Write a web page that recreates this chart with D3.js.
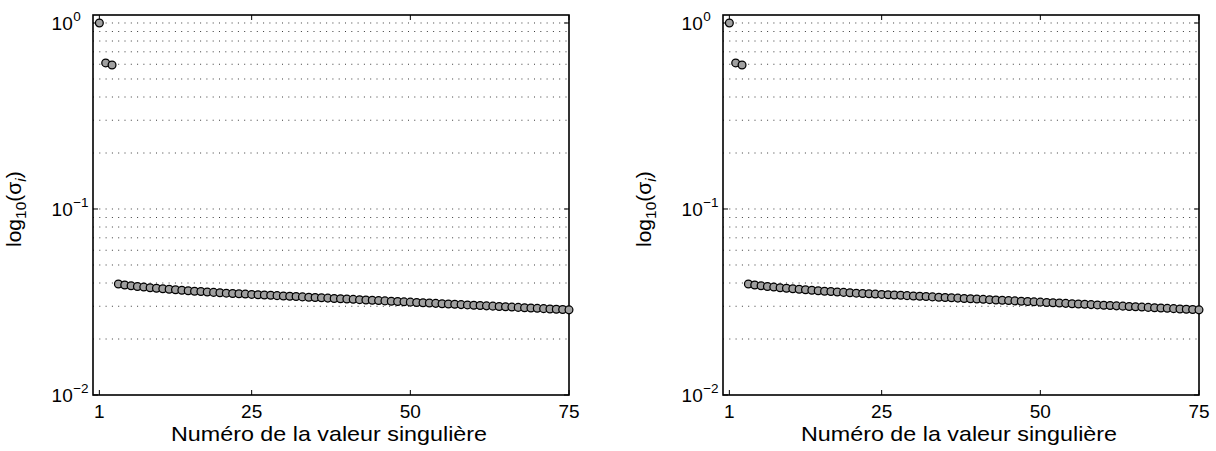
<!DOCTYPE html>
<html>
<head>
<meta charset="utf-8">
<script src="https://cdn.jsdelivr.net/npm/d3@7"></script>
<style>
  html, body { margin: 0; padding: 0; background: #fff; }
  svg text { font-family: "Liberation Sans", Arial, Helvetica, sans-serif; fill: #000; }
</style>
</head>
<body>
<svg id="chart" width="1216" height="451"></svg>
<script>
// ---- data ----
const indices = d3.range(1, 76); // singular value number 1..75
const sigma = [
  1.000, 0.610, 0.594,
  0.03952, 0.03903, 0.03865, 0.03832, 0.03803, 0.03775, 0.03747, 0.03724, 0.03701,
  0.03678, 0.03656, 0.03633, 0.03615, 0.03598, 0.03580, 0.03562, 0.03545, 0.03528,
  0.03514, 0.03501, 0.03488, 0.03474, 0.03461, 0.03448, 0.03435, 0.03421, 0.03408,
  0.03395, 0.03382, 0.03369, 0.03356, 0.03344, 0.03331, 0.03318, 0.03305, 0.03293,
  0.03280, 0.03268, 0.03255, 0.03243, 0.03230, 0.03218, 0.03206, 0.03193, 0.03181,
  0.03169, 0.03157, 0.03145, 0.03133, 0.03121, 0.03109, 0.03097, 0.03085, 0.03073,
  0.03062, 0.03050, 0.03038, 0.03027, 0.03015, 0.03004, 0.02992, 0.02981, 0.02969,
  0.02958, 0.02947, 0.02935, 0.02924, 0.02913, 0.02902, 0.02891, 0.02880, 0.02869
];
const xTicks = [1, 25, 50, 75];
const yTicks = [0.01, 0.1, 1];
const yTickExponents = ["\u22122", "\u22121", "0"];
const yGridValues = [0.02, 0.03, 0.04, 0.05, 0.06, 0.07, 0.08, 0.09, 0.1,
                     0.2, 0.3, 0.4, 0.5, 0.6, 0.7, 0.8, 0.9, 1];
const xDomain = [0, 75];
const yDomain = [0.01, 1.104];
const xLabelText = "Numéro de la valeur singulière";

// ---- layout ----
const panelLefts = [93, 723];
const plotTop = 15, plotW = 476, plotH = 380;

const svg = d3.select("#chart");

function drawPanel(left) {
  const g = svg.append("g").attr("transform", `translate(${left},${plotTop})`);
  const x = d3.scaleLinear().domain(xDomain).range([0, plotW]);
  const y = d3.scaleLog().domain(yDomain).range([plotH, 0]);

  // grid
  g.append("g").selectAll("line").data(yGridValues).join("line")
    .attr("x1", 0).attr("x2", plotW)
    .attr("y1", d => y(d)).attr("y2", d => y(d))
    .attr("stroke", "#3a3a3a").attr("stroke-width", 1)
    .attr("stroke-dasharray", "1,5.3");

  // box
  g.append("rect").attr("x", 0).attr("y", 0).attr("width", plotW).attr("height", plotH)
    .attr("fill", "none").attr("stroke", "#000").attr("stroke-width", 1.6);

  // ticks (inward)
  const tl = 5;
  xTicks.forEach(t => {
    g.append("line").attr("x1", x(t)).attr("x2", x(t)).attr("y1", plotH).attr("y2", plotH - tl)
      .attr("stroke", "#000").attr("stroke-width", 1);
    g.append("line").attr("x1", x(t)).attr("x2", x(t)).attr("y1", 0).attr("y2", tl)
      .attr("stroke", "#000").attr("stroke-width", 1);
  });
  yTicks.forEach(t => {
    g.append("line").attr("x1", 0).attr("x2", tl).attr("y1", y(t)).attr("y2", y(t))
      .attr("stroke", "#000").attr("stroke-width", 1);
    g.append("line").attr("x1", plotW).attr("x2", plotW - tl).attr("y1", y(t)).attr("y2", y(t))
      .attr("stroke", "#000").attr("stroke-width", 1);
  });

  // x tick labels
  g.append("g").selectAll("text").data(xTicks).join("text")
    .attr("x", d => x(d)).attr("y", plotH + 23)
    .attr("text-anchor", "middle").attr("font-size", 19)
    .text(d => d);

  // y tick labels 10^k
  yTicks.forEach((t, i) => {
    const ty = y(t);
    g.append("text").attr("x", -20.3).attr("y", ty + 7)
      .attr("text-anchor", "end").attr("font-size", 19).text("10");
    g.append("text").attr("x", -19.8).attr("y", ty - 2)
      .attr("text-anchor", "start").attr("font-size", 13.5).text(yTickExponents[i]);
  });

  // points
  g.append("g").selectAll("circle").data(sigma).join("circle")
    .attr("cx", (d, i) => x(indices[i])).attr("cy", d => y(d))
    .attr("r", 3.9)
    .attr("fill", "#a0a0a0").attr("stroke", "#000").attr("stroke-width", 1.25);

  // x label
  g.append("text").attr("x", plotW / 2 - 2).attr("y", plotH + 46)
    .attr("text-anchor", "middle").attr("font-size", 21)
    .attr("textLength", 316).attr("lengthAdjust", "spacingAndGlyphs")
    .text(xLabelText);

  // y label
  const yl = g.append("text")
    .attr("transform", `translate(${-72},${232}) rotate(-90)`)
    .attr("text-anchor", "start").attr("font-size", 21);
  yl.append("tspan").text("log");
  yl.append("tspan").attr("font-size", 15.5).attr("dy", 5).text("10");
  yl.append("tspan").attr("dy", -5).text("(σ");
  yl.append("tspan").attr("font-size", 15.5).attr("dy", 5).attr("font-style", "italic").text("i");
  yl.append("tspan").attr("dy", -5).text(")");
}

panelLefts.forEach(drawPanel);
</script>
</body>
</html>
